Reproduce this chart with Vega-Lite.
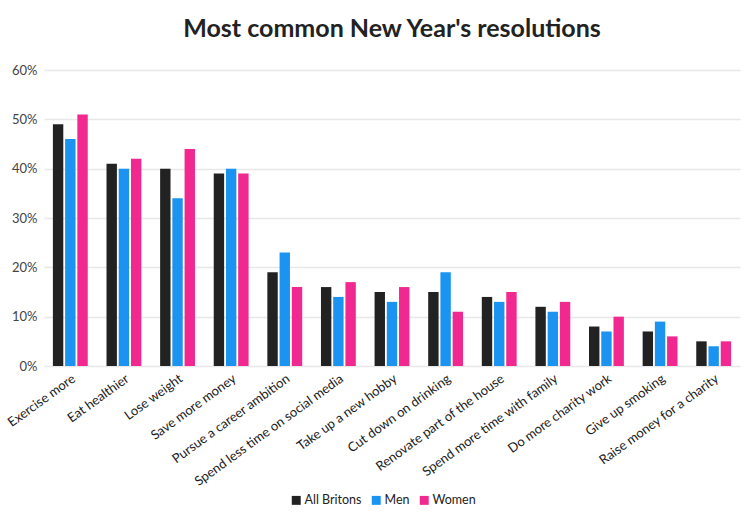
{
  "$schema": "https://vega.github.io/schema/vega-lite/v6.json",
  "width": 696,
  "height": 296,
  "autosize": {"type": "none"},
  "padding": {"left": 44, "top": 70, "right": 10, "bottom": 151},
  "background": "white",
  "title": {"text": "Most common New Year's resolutions", "font": "Lato", "fontSize": 25, "fontWeight": "bold", "color": "#222222", "offset": 22, "anchor": "middle"},
  "config": {"view": {"stroke": null}, "font": "Lato"},
  "data": {"values": [
    {"r": "Exercise more", "g": "All Britons", "v": 0.49}, {"r": "Exercise more", "g": "Men", "v": 0.46}, {"r": "Exercise more", "g": "Women", "v": 0.51},
    {"r": "Eat healthier", "g": "All Britons", "v": 0.41}, {"r": "Eat healthier", "g": "Men", "v": 0.40}, {"r": "Eat healthier", "g": "Women", "v": 0.42},
    {"r": "Lose weight", "g": "All Britons", "v": 0.40}, {"r": "Lose weight", "g": "Men", "v": 0.34}, {"r": "Lose weight", "g": "Women", "v": 0.44},
    {"r": "Save more money", "g": "All Britons", "v": 0.39}, {"r": "Save more money", "g": "Men", "v": 0.40}, {"r": "Save more money", "g": "Women", "v": 0.39},
    {"r": "Pursue a career ambition", "g": "All Britons", "v": 0.19}, {"r": "Pursue a career ambition", "g": "Men", "v": 0.23}, {"r": "Pursue a career ambition", "g": "Women", "v": 0.16},
    {"r": "Spend less time on social media", "g": "All Britons", "v": 0.16}, {"r": "Spend less time on social media", "g": "Men", "v": 0.14}, {"r": "Spend less time on social media", "g": "Women", "v": 0.17},
    {"r": "Take up a new hobby", "g": "All Britons", "v": 0.15}, {"r": "Take up a new hobby", "g": "Men", "v": 0.13}, {"r": "Take up a new hobby", "g": "Women", "v": 0.16},
    {"r": "Cut down on drinking", "g": "All Britons", "v": 0.15}, {"r": "Cut down on drinking", "g": "Men", "v": 0.19}, {"r": "Cut down on drinking", "g": "Women", "v": 0.11},
    {"r": "Renovate part of the house", "g": "All Britons", "v": 0.14}, {"r": "Renovate part of the house", "g": "Men", "v": 0.13}, {"r": "Renovate part of the house", "g": "Women", "v": 0.15},
    {"r": "Spend more time with family", "g": "All Britons", "v": 0.12}, {"r": "Spend more time with family", "g": "Men", "v": 0.11}, {"r": "Spend more time with family", "g": "Women", "v": 0.13},
    {"r": "Do more charity work", "g": "All Britons", "v": 0.08}, {"r": "Do more charity work", "g": "Men", "v": 0.07}, {"r": "Do more charity work", "g": "Women", "v": 0.10},
    {"r": "Give up smoking", "g": "All Britons", "v": 0.07}, {"r": "Give up smoking", "g": "Men", "v": 0.09}, {"r": "Give up smoking", "g": "Women", "v": 0.06},
    {"r": "Raise money for a charity", "g": "All Britons", "v": 0.05}, {"r": "Raise money for a charity", "g": "Men", "v": 0.04}, {"r": "Raise money for a charity", "g": "Women", "v": 0.05}
  ]},
  "mark": {"type": "bar"},
  "encoding": {
    "x": {"field": "r", "type": "nominal", "sort": null, "title": null,
      "scale": {"paddingInner": 0.35, "paddingOuter": 0.166},
      "axis": {"labelAngle": -36, "labelFontSize": 13, "labelColor": "#1a1a1a", "ticks": false, "domain": false, "labelPadding": 6, "labelFont": "Lato", "labelLimit": 300}},
    "xOffset": {"field": "g", "type": "nominal", "scale": {"paddingInner": 0.15, "paddingOuter": 0}},
    "y": {"field": "v", "type": "quantitative", "title": null,
      "scale": {"domain": [0, 0.6]},
      "axis": {"format": ".0%", "values": [0, 0.1, 0.2, 0.3, 0.4, 0.5, 0.6], "labelOverlap": false, "ticks": false, "domain": false, "labelFontSize": 13, "labelColor": "#444444", "labelPadding": 7, "gridColor": "#e8e8e8", "gridWidth": 1.5}},
    "color": {"field": "g", "type": "nominal", "title": null,
      "scale": {"domain": ["All Britons", "Men", "Women"], "range": ["#222222", "#1a94f0", "#f0288f"]},
      "legend": {"orient": "none", "legendX": 246, "legendY": 424, "direction": "horizontal", "symbolType": "square", "symbolSize": 80, "labelFontSize": 12.5, "labelColor": "#222222", "columnPadding": 8, "labelOffset": 2}}
  }
}
